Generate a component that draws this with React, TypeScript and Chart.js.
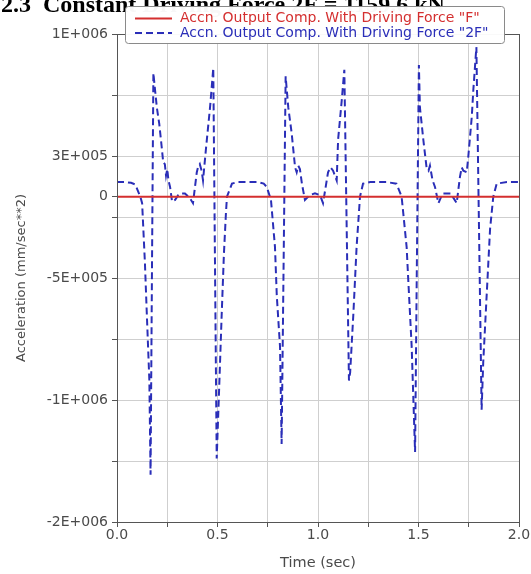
import React, { useEffect, useRef } from 'react';
import { Chart, registerables } from 'chart.js';

Chart.register(...registerables);

const titleText = '2.3  Constant Driving Force 2F = 1159.6 kN';
const seriesFLabel = 'Accn. Output Comp. With Driving Force "F"';
const series2FLabel = 'Accn. Output Comp. With Driving Force "2F"';
const xAxisTitle = 'Time (sec)';
const yAxisTitle = 'Acceleration (mm/sec**2)';

// Series "F" (flat at zero)
const timeF = [0, 2];
const accelF = [0, 0];

// Series "2F"
const time2F = [
  0.0, 0.04, 0.07, 0.091, 0.116, 0.125, 0.139, 0.148, 0.161, 0.167, 0.174, 0.181,
  0.189, 0.198, 0.21, 0.222, 0.23, 0.238, 0.244, 0.25, 0.256, 0.264, 0.274, 0.289,
  0.305, 0.32, 0.338, 0.363, 0.378, 0.397, 0.403, 0.412, 0.421, 0.428, 0.443, 0.463,
  0.479, 0.496, 0.504, 0.521, 0.532, 0.542, 0.547, 0.572, 0.6, 0.65, 0.7, 0.73,
  0.745, 0.766, 0.786, 0.795, 0.811, 0.819, 0.829, 0.839, 0.852, 0.869, 0.886, 0.894,
  0.902, 0.91, 0.92, 0.935, 0.96, 0.985, 1.01, 1.025, 1.05, 1.062, 1.075, 1.093,
  1.1, 1.118, 1.131, 1.154, 1.16, 1.176, 1.192, 1.209, 1.224, 1.26, 1.3, 1.34,
  1.39, 1.416, 1.441, 1.449, 1.466, 1.483, 1.492, 1.502, 1.507, 1.524, 1.54, 1.55,
  1.557, 1.57, 1.582, 1.599, 1.62, 1.66, 1.69, 1.706, 1.715, 1.723, 1.74, 1.748,
  1.765, 1.773, 1.788, 1.814, 1.822, 1.839, 1.856, 1.872, 1.889, 1.94, 2.0,
];
const accel2F = [
  90000, 90000, 85000, 75000, 0, -40000, -410000, -710000, -1130000, -1710000, -450000, 760000,
  660000, 550000, 450000, 310000, 210000, 200000, 130000, 170000, 100000, 60000, -30000, -20000,
  10000, 20000, 20000, -10000, -40000, 150000, 180000, 200000, 160000, 100000, 300000, 550000,
  790000, -1610000, -1330000, -720000, -350000, -100000, 0, 80000, 90000, 90000, 90000, 80000,
  60000, -20000, -310000, -610000, -920000, -1520000, -400000, 740000, 550000, 390000, 180000, 150000,
  190000, 170000, 80000, -20000, 10000, 20000, 10000, -40000, 150000, 180000, 160000, 100000,
  350000, 590000, 780000, -1130000, -1080000, -720000, -310000, 0, 80000, 90000, 90000, 90000,
  80000, 0, -310000, -510000, -920000, -1570000, -400000, 810000, 550000, 350000, 180000, 160000,
  190000, 100000, 60000, -40000, 20000, 20000, -40000, 120000, 180000, 160000, 150000, 250000,
  490000, 660000, 920000, -1310000, -1020000, -610000, -200000, 0, 80000, 90000, 90000,
];

const xTickValues = [0, 0.25, 0.5, 0.75, 1.0, 1.25, 1.5, 1.75, 2.0];
const xTickLabels = ['0.0', '', '0.5', '', '1.0', '', '1.5', '', '2.0'];
const yTickValues = [-2000000, -1625000, -1250000, -875000, -500000, -125000, 0, 250000, 625000, 1000000];
const yTickLabels = ['-2E+006', '', '-1E+006', '', '-5E+005', '', '0', '3E+005', '', '1E+006'];

const RED = '#d42f2f';
const BLUE = '#2a2eb8';
const TEXT = '#4a4a4a';
const FONT = '"DejaVu Sans", sans-serif';

const overlayPlugin = {
  id: 'overlay',
  afterDraw(chart: any) {
    const { ctx, chartArea } = chart;
    ctx.save();
    // frame
    ctx.strokeStyle = '#555';
    ctx.lineWidth = 1;
    ctx.strokeRect(
      Math.round(chartArea.left) + 0.5,
      Math.round(chartArea.top) + 0.5,
      Math.round(chartArea.right - chartArea.left),
      Math.round(chartArea.bottom - chartArea.top)
    );
    // title (cropped at top)
    ctx.fillStyle = '#000';
    ctx.font = 'bold 24px "Liberation Serif", serif';
    ctx.textBaseline = 'alphabetic';
    ctx.textAlign = 'left';
    ctx.fillText(titleText, 1, 12);
    // legend box
    const bx = 125.5, by = 6.5, bw = 379, bh = 37;
    ctx.fillStyle = 'rgba(255,255,255,0.97)';
    ctx.strokeStyle = '#8a8a8a';
    ctx.beginPath();
    ctx.roundRect(bx, by, bw, bh, 3);
    ctx.fill();
    ctx.stroke();
    ctx.lineWidth = 2;
    ctx.strokeStyle = RED;
    ctx.beginPath();
    ctx.moveTo(135, 18.5);
    ctx.lineTo(172, 18.5);
    ctx.stroke();
    ctx.strokeStyle = BLUE;
    ctx.setLineDash([7, 4]);
    ctx.beginPath();
    ctx.moveTo(135, 33);
    ctx.lineTo(172, 33);
    ctx.stroke();
    ctx.setLineDash([]);
    ctx.font = '14px ' + FONT;
    ctx.textBaseline = 'middle';
    ctx.fillStyle = RED;
    ctx.fillText(seriesFLabel, 180, 18.5);
    ctx.fillStyle = BLUE;
    ctx.fillText(series2FLabel, 180, 33);
    ctx.restore();
  },
};

export default function App() {
  const ref = useRef<HTMLCanvasElement | null>(null);
  useEffect(() => {
    if (!ref.current) return;
    const chart = new Chart(ref.current, {
      type: 'line',
      data: {
        datasets: [
          {
            label: seriesFLabel,
            data: timeF.map((t, i) => ({ x: t, y: accelF[i] })),
            borderColor: RED,
            borderWidth: 2,
            pointRadius: 0,
            tension: 0,
          },
          {
            label: series2FLabel,
            data: time2F.map((t, i) => ({ x: t, y: accel2F[i] })),
            borderColor: BLUE,
            borderWidth: 2,
            borderDash: [7, 4],
            pointRadius: 0,
            tension: 0,
          },
        ],
      },
      options: {
        animation: false,
        responsive: false,
        layout: { padding: { top: 34, right: 12, left: 10, bottom: 0 } },
        plugins: { legend: { display: false }, tooltip: { enabled: false } },
        scales: {
          x: {
            type: 'linear',
            min: 0,
            max: 2,
            afterBuildTicks: (s: any) => {
              s.ticks = xTickValues.map((v) => ({ value: v }));
            },
            afterFit: (s: any) => {
              s.height = 52;
            },
            ticks: {
              autoSkip: false,
              maxRotation: 0,
              padding: 0,
              color: TEXT,
              font: { family: FONT, size: 14 },
              callback: (v: any) => {
                const i = xTickValues.findIndex((t) => Math.abs(t - v) < 1e-9);
                return i >= 0 ? xTickLabels[i] : '';
              },
            },
            grid: { color: '#cfcfcf', tickColor: '#555', tickLength: 5 },
            border: { color: '#555' },
            title: {
              display: true,
              text: xAxisTitle,
              color: TEXT,
              font: { family: FONT, size: 14.5 },
              padding: { top: 0, bottom: 2 },
            },
          },
          y: {
            type: 'linear',
            min: -2000000,
            max: 1000000,
            afterBuildTicks: (s: any) => {
              s.ticks = yTickValues.map((v) => ({ value: v }));
            },
            afterFit: (s: any) => {
              s.width = 107;
            },
            ticks: {
              autoSkip: false,
              padding: 4,
              color: TEXT,
              font: { family: FONT, size: 14 },
              callback: (v: any) => {
                const i = yTickValues.findIndex((t) => Math.abs(t - v) < 1e-6);
                return i >= 0 ? yTickLabels[i] : '';
              },
            },
            grid: { color: '#cfcfcf', tickColor: '#555', tickLength: 5 },
            border: { color: '#555' },
            title: {
              display: true,
              text: yAxisTitle,
              color: TEXT,
              font: { family: FONT, size: 13 },
              padding: { top: 4, bottom: 0 },
            },
          },
        },
      },
      plugins: [overlayPlugin],
    });
    return () => chart.destroy();
  }, []);
  return (
    <div style={{ position: 'absolute', left: 0, top: 0, width: 531, height: 574, background: '#fff' }}>
      <canvas ref={ref} width={531} height={574} style={{ display: 'block' }} />
    </div>
  );
}
